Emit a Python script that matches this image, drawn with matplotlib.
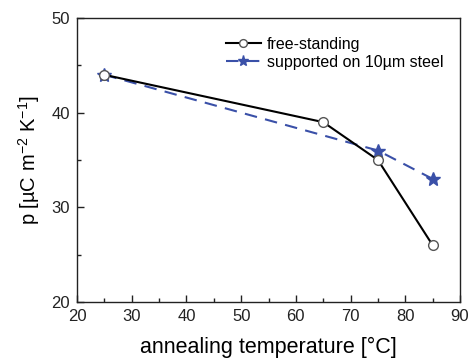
import matplotlib
matplotlib.use("Agg")
import matplotlib.pyplot as plt
from matplotlib.ticker import MultipleLocator

plt.rcParams['font.family'] = ['Liberation Sans', 'DejaVu Sans']
plt.rcParams['mathtext.fontset'] = 'custom'
plt.rcParams['mathtext.rm'] = 'Liberation Sans'

temp_free = [25, 65, 75, 85]
p_free = [44, 39, 35, 26]
temp_sup = [25, 75, 85]
p_sup = [44, 36, 33]

fig = plt.figure(figsize=(4.7, 3.62), dpi=100)
ax = fig.add_axes([77/470, 1 - 302/362, (460-77)/470, (302-18)/362])

ax.plot(temp_free, p_free, '-', color='black', lw=1.5, marker='o', ms=7,
        mfc='white', mec='#555555', mew=1.0, label='free-standing', zorder=3)
ax.plot(temp_sup, p_sup, '--', color='#3a50a8', lw=1.5, marker='*', ms=10,
        mfc='#3a50a8', mec='#3a50a8', dashes=(6, 4), label='supported on 10µm steel', zorder=2)

ax.set_xlim(20, 90)
ax.set_ylim(20, 50)
ax.xaxis.set_major_locator(MultipleLocator(10))
ax.xaxis.set_minor_locator(MultipleLocator(5))
ax.yaxis.set_major_locator(MultipleLocator(10))
ax.yaxis.set_minor_locator(MultipleLocator(5))
ax.tick_params(which='both', direction='in', top=False, right=False, labelsize=12, colors='#222222')
ax.tick_params(which='major', length=5, width=1, pad=5)
ax.tick_params(which='minor', length=3, width=1)
for s in ax.spines.values():
    s.set_linewidth(1.0)
    s.set_color('#222222')

ax.set_xlabel('annealing temperature [°C]', fontsize=15.5, labelpad=9)
ax.set_ylabel(r'p [µC m$^{-2}$ K$^{-1}$]', fontsize=14.5, labelpad=7)

ax.legend(loc='upper right', bbox_to_anchor=(0.995, 0.985), frameon=False, fontsize=11.5,
          handlelength=2.2, handletextpad=0.4, labelspacing=0.2, markerscale=0.8)

fig.savefig('out.png', dpi=100)
